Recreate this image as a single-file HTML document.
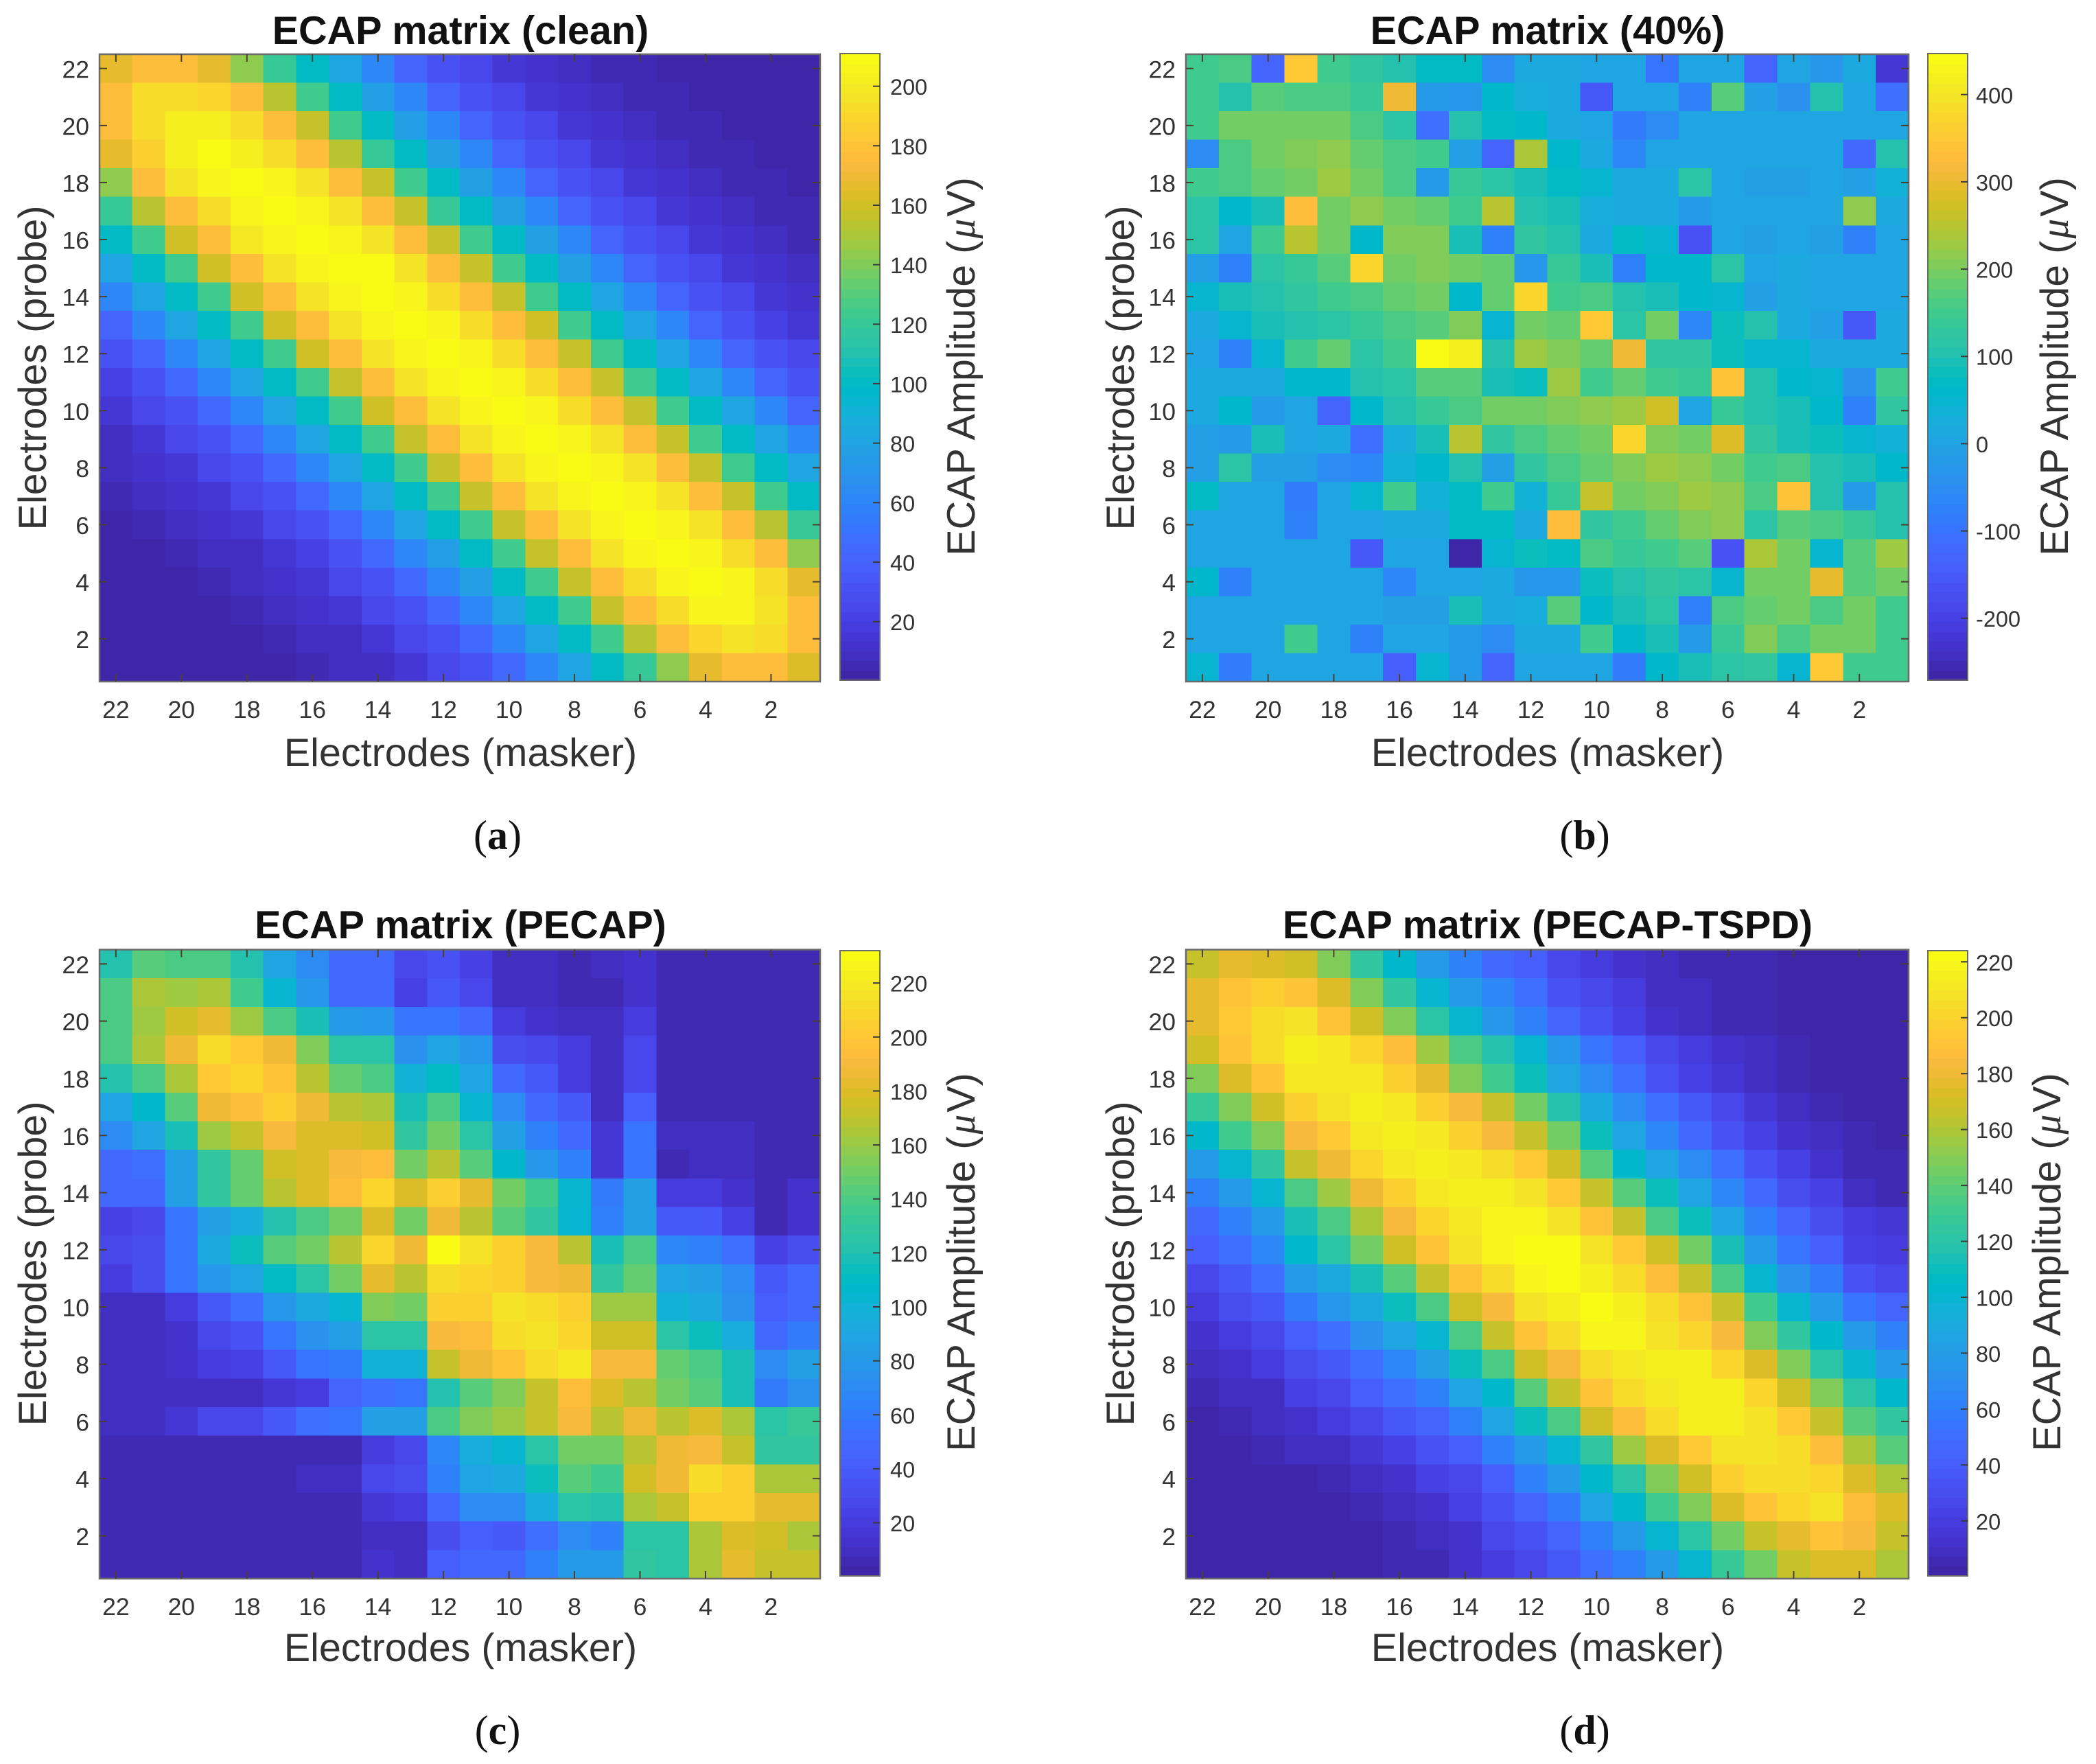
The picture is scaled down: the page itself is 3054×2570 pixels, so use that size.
<!DOCTYPE html>
<html lang="en">
<head>
<meta charset="utf-8">
<title>ECAP matrices</title>
<style>
  html,body{margin:0;padding:0;background:#fff;}
  svg{display:block;font-family:"Liberation Sans",Arial,sans-serif;}
  .title{font-size:57.5px;font-weight:bold;fill:#111;text-anchor:middle;}
  .axis-label{font-size:57.5px;fill:#333;text-anchor:middle;}
  .mu{font-family:"Liberation Serif",serif;font-style:italic;}
  .tick-text{font-size:35.5px;fill:#333;}
  .cb-tick-text{font-size:32.5px;fill:#333;}
  .caption{font-family:"Liberation Serif",serif;font-size:60px;fill:#111;text-anchor:middle;}
  .caption tspan{font-weight:bold;}
</style>
</head>
<body>
<svg id="figure" xmlns="http://www.w3.org/2000/svg" width="3054" height="2570" viewBox="0 0 3054 2570">
  <rect width="3054" height="2570" fill="#fff"/>

  <text class="title" x="671" y="64">ECAP matrix (clean)</text>
  <text class="title" x="2255" y="64">ECAP matrix (40%)</text>
  <text class="title" x="671" y="1367">ECAP matrix (PECAP)</text>
  <text class="title" x="2255" y="1367">ECAP matrix (PECAP-TSPD)</text>

  <text class="axis-label" x="671" y="1116">Electrodes (masker)</text>
  <text class="axis-label" x="2255" y="1116">Electrodes (masker)</text>
  <text class="axis-label" x="671" y="2420">Electrodes (masker)</text>
  <text class="axis-label" x="2255" y="2420">Electrodes (masker)</text>

  <text class="axis-label" transform="translate(67,536) rotate(-90)">Electrodes (probe)</text>
  <text class="axis-label" transform="translate(1652,536) rotate(-90)">Electrodes (probe)</text>
  <text class="axis-label" transform="translate(67,1841) rotate(-90)">Electrodes (probe)</text>
  <text class="axis-label" transform="translate(1652,1841) rotate(-90)">Electrodes (probe)</text>

  <text class="axis-label" transform="translate(1420,534) rotate(-90)">ECAP Amplitude (<tspan class="mu" dx="3">μ</tspan><tspan dx="3">V)</tspan></text>
  <text class="axis-label" transform="translate(3013,534) rotate(-90)">ECAP Amplitude (<tspan class="mu" dx="3">μ</tspan><tspan dx="3">V)</tspan></text>
  <text class="axis-label" transform="translate(1420,1839) rotate(-90)">ECAP Amplitude (<tspan class="mu" dx="3">μ</tspan><tspan dx="3">V)</tspan></text>
  <text class="axis-label" transform="translate(3002,1839) rotate(-90)">ECAP Amplitude (<tspan class="mu" dx="3">μ</tspan><tspan dx="3">V)</tspan></text>

  <text class="caption" x="725" y="1237">(<tspan>a</tspan>)</text>
  <text class="caption" x="2309" y="1237">(<tspan>b</tspan>)</text>
  <text class="caption" x="725" y="2541">(<tspan>c</tspan>)</text>
  <text class="caption" x="2309" y="2541">(<tspan>d</tspan>)</text>
</svg>

<script>
// ---------- chart data (rows: probe 22 → 1, columns: masker 22 → 1) ----------
const probeElectrodes = [22,21,20,19,18,17,16,15,14,13,12,11,10,9,8,7,6,5,4,3,2,1];
const maskerElectrodes = [22,21,20,19,18,17,16,15,14,13,12,11,10,9,8,7,6,5,4,3,2,1];
const electrodeTickLabels = [22,20,18,16,14,12,10,8,6,4,2];

const cleanLimits = [0.3, 211];
const noisyLimits = [-271, 447];
const pecapLimits = [0.3, 232];
const tspdLimits = [0.3, 224];

const cleanColorbarTicks = [20,40,60,80,100,120,140,160,180,200];
const noisyColorbarTicks = [-200,-100,0,100,200,300,400];
const pecapColorbarTicks = [20,40,60,80,100,120,140,160,180,200,220];
const tspdColorbarTicks = [20,40,60,80,100,120,140,160,180,200,220];

const cleanValues = [
[165,178,178,165,145,122,100,80,60,42,33,25,15,12,8,6,4,3,3,2,2,2],
[178,192,192,188,176,155,125,100,78,62,42,33,24,16,12,9,5,4,3,3,2,2],
[178,192,203,203,192,178,158,125,100,78,60,42,33,24,16,12,9,5,4,3,3,2],
[165,185,203,209,203,192,178,155,122,100,78,60,42,33,24,15,12,9,5,4,3,3],
[145,176,195,205,210,206,195,178,158,125,100,78,60,42,33,24,16,13,9,5,4,3],
[122,155,178,192,207,209,205,195,178,158,122,100,78,60,42,33,24,16,12,9,6,4],
[100,125,160,178,198,206,210,207,195,178,158,125,100,78,60,42,33,24,16,13,9,5],
[80,102,125,160,178,195,206,210,208,195,178,158,125,100,78,60,42,32,24,16,12,8],
[60,80,102,125,160,178,195,205,210,205,192,178,158,125,100,80,60,42,32,24,16,12],
[42,60,80,102,125,160,178,195,205,209,205,192,178,160,125,102,80,60,42,32,22,16],
[30,42,60,80,102,125,160,178,195,207,210,205,192,178,158,125,102,80,60,42,30,24],
[22,32,45,62,80,102,125,158,178,195,207,210,205,192,178,158,125,102,80,60,42,32],
[15,24,33,45,60,80,102,125,160,178,195,206,210,205,192,178,158,125,102,80,60,42],
[10,16,24,33,44,60,80,102,125,158,178,195,206,210,205,195,178,158,125,102,80,60],
[8,12,16,24,33,45,60,80,102,125,158,178,195,207,210,205,195,178,158,125,102,80],
[5,9,12,16,24,32,45,60,80,102,125,158,178,195,207,210,205,195,178,158,125,100],
[3,5,9,12,16,24,33,45,60,80,102,125,158,178,195,206,210,206,195,178,155,122],
[2,3,5,8,10,15,22,33,44,60,78,100,125,158,178,195,206,210,207,192,178,145],
[2,2,3,5,8,12,16,24,33,44,60,78,102,125,158,178,192,206,209,205,192,165],
[2,2,2,3,5,8,12,15,24,33,44,60,80,102,125,158,178,192,205,205,195,178],
[1,2,2,2,3,5,8,10,15,24,33,44,60,80,102,125,155,176,190,195,192,178],
[1,1,2,2,2,3,5,8,10,15,24,33,45,62,80,100,122,145,165,178,178,162]
];

const noisyValues = [
[150,165,-130,350,145,125,100,75,70,-50,15,10,5,0,-100,5,5,-130,5,-25,10,-215],
[150,110,175,160,160,140,310,-15,-30,60,25,10,-155,0,5,-70,170,-5,-45,105,5,-110],
[155,190,200,200,190,160,115,-110,110,75,55,15,5,-90,-50,0,0,0,0,0,0,0],
[-50,165,200,205,220,185,160,145,-10,-130,235,60,10,-60,0,0,0,0,0,0,-120,110],
[150,165,185,195,225,190,160,-20,140,115,90,70,50,15,10,115,0,-5,-5,0,-5,40],
[120,60,95,330,200,215,190,180,150,250,110,90,25,20,15,-15,0,0,0,0,220,15],
[120,0,150,255,190,60,210,205,95,-70,130,110,10,70,50,-165,0,-5,0,-10,-70,5],
[-10,-80,120,140,175,370,195,210,190,180,-30,140,90,-70,65,60,120,5,10,5,5,5],
[50,90,110,125,145,160,180,195,65,185,370,155,160,110,90,60,50,-10,10,0,0,0],
[15,50,90,110,120,140,160,175,205,50,200,185,350,115,200,-60,80,105,10,-5,-150,10],
[5,-70,50,150,185,120,145,447,420,110,225,205,185,310,130,125,80,50,45,10,10,10],
[15,15,20,55,60,105,120,175,175,90,85,225,145,185,145,140,340,100,60,50,-40,155],
[15,55,-15,0,-130,60,100,135,160,195,195,205,215,225,275,5,135,110,90,55,-70,130],
[-5,-20,90,0,10,-110,30,95,255,125,160,180,195,370,205,200,280,125,95,85,50,40],
[-10,120,-10,-10,-50,-60,40,65,100,-5,130,160,185,210,225,215,195,145,165,100,95,60],
[70,0,0,-90,0,50,150,40,70,150,40,135,260,200,205,225,215,165,335,100,-15,110],
[0,0,0,-70,0,0,10,15,70,70,15,330,125,155,180,205,220,115,170,165,135,110],
[0,0,0,0,0,-150,0,0,-271,50,85,75,165,135,155,170,-170,235,190,45,170,225],
[60,-80,0,0,0,0,-60,5,5,15,-25,-30,85,110,130,115,45,195,195,290,175,195],
[0,0,0,0,0,0,-5,-5,90,10,25,170,55,95,120,-70,165,185,200,160,190,150],
[0,0,0,150,0,-80,5,0,-15,-55,10,15,145,60,95,-15,135,210,160,195,190,155],
[50,-90,0,0,0,0,-140,50,-15,-130,5,5,0,-90,60,90,115,130,50,355,150,145]
];

const pecapValues = [
[122,145,138,138,120,90,70,50,50,28,35,25,8,8,6,8,12,4,4,4,4,4],
[140,165,160,165,135,105,78,48,48,24,38,28,8,8,5,6,12,4,4,4,4,4],
[140,162,175,182,160,140,118,80,78,55,58,48,20,14,8,8,22,4,4,4,4,4],
[140,165,185,212,200,188,155,125,125,75,90,78,32,26,20,8,28,4,4,4,4,4],
[120,140,165,200,208,198,170,148,140,100,110,90,50,38,22,8,28,4,4,4,4,4],
[90,108,145,185,195,205,188,170,165,118,140,105,72,50,38,10,42,4,4,4,4,4],
[72,90,118,160,172,190,180,178,175,130,150,125,85,65,50,16,58,8,10,10,5,4],
[48,52,85,130,148,175,178,192,195,150,168,145,108,78,62,18,58,6,8,8,5,4],
[48,50,85,128,148,170,178,195,208,178,205,182,150,135,105,60,85,20,20,14,7,12],
[24,26,55,85,95,122,138,152,178,150,185,168,145,128,105,65,85,38,38,24,5,14],
[28,32,58,92,115,142,152,170,208,185,232,215,205,192,170,118,138,68,65,52,24,30],
[22,30,55,78,90,110,125,150,182,170,212,208,205,192,185,130,148,90,85,72,38,50],
[10,10,22,40,52,78,92,105,155,150,205,205,215,212,205,160,162,100,92,75,42,50],
[8,8,14,28,36,55,75,85,125,125,190,195,212,215,210,175,175,125,115,95,48,60],
[8,8,14,22,24,40,58,60,100,100,172,185,198,212,220,192,190,148,140,118,72,85],
[8,8,8,10,10,16,20,45,52,58,120,145,155,172,195,180,170,152,145,118,60,75],
[10,10,18,28,28,38,52,58,85,85,140,155,160,172,190,170,185,170,178,165,125,132],
[4,4,4,4,4,4,5,5,22,28,68,95,102,125,150,150,170,188,190,172,128,128],
[4,4,4,4,4,4,8,8,28,32,65,90,92,115,145,135,175,188,212,205,165,165],
[4,4,4,4,4,4,6,6,18,22,50,72,72,95,125,120,165,172,205,205,182,182],
[4,4,4,4,4,4,4,4,8,8,30,42,38,52,72,62,125,125,165,178,175,165],
[4,4,4,4,4,4,4,4,12,10,42,48,48,62,82,82,130,125,165,182,172,172]
];

const tspdValues = [
[168,178,175,170,148,125,102,80,62,48,40,26,18,14,10,6,5,4,3,3,2,2],
[178,190,198,192,172,150,125,100,78,65,50,35,25,18,10,8,5,4,3,3,2,2],
[176,195,205,208,192,170,148,122,100,75,62,45,32,22,14,10,7,5,3,3,2,2],
[170,190,205,214,212,200,188,155,135,118,100,75,55,40,28,20,12,8,5,3,2,2],
[150,172,192,212,213,212,198,178,150,130,112,85,68,50,32,24,15,8,5,3,2,2],
[128,150,170,198,210,215,212,198,185,165,145,118,90,68,50,38,26,16,8,4,3,2],
[105,130,150,185,196,212,214,212,198,185,168,145,112,85,65,48,35,22,14,8,5,3],
[80,100,125,165,180,200,212,215,212,205,195,170,140,105,85,70,52,32,22,12,6,4],
[62,78,100,135,155,180,198,212,215,215,210,195,168,140,110,85,65,48,30,22,10,6],
[48,62,78,115,135,160,185,202,212,218,218,210,190,165,135,112,85,62,45,30,20,16],
[42,50,65,105,120,145,170,190,210,218,224,222,208,195,170,145,115,80,55,42,24,20],
[28,38,52,78,88,115,140,165,190,205,220,222,215,205,188,165,135,100,72,58,32,28],
[20,30,38,58,75,90,112,135,170,185,208,214,224,216,205,190,165,130,100,78,55,45],
[12,20,26,42,50,72,85,100,135,165,192,205,218,220,210,200,185,150,125,102,78,62],
[8,14,20,30,38,50,65,82,110,135,170,185,205,212,216,215,200,175,150,120,100,80],
[4,8,10,22,28,42,50,62,85,105,140,165,190,205,212,216,214,200,170,150,120,105],
[3,4,8,14,18,28,38,45,62,85,112,135,170,188,205,214,216,208,195,168,140,125],
[2,3,4,8,10,16,24,32,42,60,80,100,125,155,175,195,208,208,205,188,158,140],
[1,1,2,3,5,10,14,22,28,40,62,80,105,122,150,170,198,205,205,200,172,158],
[1,1,1,2,3,5,8,14,22,32,45,58,85,102,130,150,175,190,202,208,188,172],
[1,1,1,1,2,3,5,8,14,26,34,45,62,80,100,120,145,165,178,190,185,165],
[1,1,1,1,1,2,4,6,12,20,28,38,52,62,78,100,128,145,165,172,172,160]
];

// ---------- parula colormap ----------
const parulaRGB = [
[.2422,.1504,.6603],[.2504,.1650,.7076],[.2578,.1818,.7511],[.2647,.1978,.7952],[.2706,.2147,.8364],[.2751,.2342,.8710],[.2783,.2559,.8991],[.2803,.2782,.9221],
[.2813,.3006,.9414],[.2810,.3228,.9579],[.2795,.3447,.9717],[.2760,.3667,.9829],[.2699,.3892,.9906],[.2602,.4123,.9952],[.2440,.4358,.9988],[.2206,.4603,.9973],
[.1963,.4847,.9892],[.1834,.5074,.9798],[.1786,.5289,.9682],[.1764,.5499,.9520],[.1687,.5703,.9359],[.1540,.5902,.9218],[.1460,.6091,.9079],[.1380,.6276,.8973],
[.1248,.6459,.8883],[.1113,.6635,.8763],[.0952,.6798,.8598],[.0689,.6948,.8394],[.0297,.7082,.8163],[.0036,.7203,.7917],[.0067,.7312,.7660],[.0433,.7411,.7394],
[.0964,.7500,.7120],[.1408,.7584,.6842],[.1717,.7670,.6554],[.1938,.7758,.6251],[.2161,.7843,.5923],[.2470,.7918,.5567],[.2906,.7973,.5188],[.3406,.8008,.4789],
[.3909,.8029,.4354],[.4456,.8024,.3909],[.5044,.7993,.3480],[.5616,.7942,.3045],[.6174,.7876,.2612],[.6720,.7793,.2227],[.7242,.7698,.1910],[.7738,.7598,.1646],
[.8203,.7498,.1535],[.8634,.7406,.1596],[.9035,.7330,.1774],[.9393,.7288,.2100],[.9728,.7298,.2394],[.9956,.7434,.2371],[.9970,.7659,.2199],[.9952,.7893,.2028],
[.9892,.8136,.1885],[.9786,.8386,.1766],[.9676,.8639,.1643],[.9610,.8890,.1537],[.9597,.9135,.1423],[.9628,.9373,.1265],[.9691,.9606,.1064],[.9769,.9839,.0805]
];

function colorOf(value, limits) {
  const t = (value - limits[0]) / (limits[1] - limits[0]);
  const index = Math.max(0, Math.min(63, Math.floor(t * 64)));
  const c = parulaRGB[index];
  return 'rgb(' + Math.round(c[0]*255) + ',' + Math.round(c[1]*255) + ',' + Math.round(c[2]*255) + ')';
}

// ---------- layout ----------
const SVG_NS = 'http://www.w3.org/2000/svg';
const figure = document.getElementById('figure');

function make(tag, attrs, parent) {
  const el = document.createElementNS(SVG_NS, tag);
  for (const k in attrs) el.setAttribute(k, attrs[k]);
  parent.appendChild(el);
  return el;
}

const panels = [
  {key:'clean', values:cleanValues, limits:cleanLimits, ticks:cleanColorbarTicks,
   left:145, top:79, right:1195, bottom:993, cbLeft:1224, cbTop:78, cbRight:1282, cbBottom:991, cbTextX:1297},
  {key:'40-percent', values:noisyValues, limits:noisyLimits, ticks:noisyColorbarTicks,
   left:1728, top:79, right:2781, bottom:993, cbLeft:2809, cbTop:78, cbRight:2867, cbBottom:991, cbTextX:2879},
  {key:'pecap', values:pecapValues, limits:pecapLimits, ticks:pecapColorbarTicks,
   left:145, top:1383.5, right:1195, bottom:2300, cbLeft:1224, cbTop:1385, cbRight:1282, cbBottom:2296, cbTextX:1297},
  {key:'pecap-tspd', values:tspdValues, limits:tspdLimits, ticks:tspdColorbarTicks,
   left:1728, top:1383.5, right:2781, bottom:2300, cbLeft:2809, cbTop:1385, cbRight:2867, cbBottom:2296, cbTextX:2879}
];

panels.forEach(function (p) {
  const cellW = (p.right - p.left) / maskerElectrodes.length;
  const cellH = (p.bottom - p.top) / probeElectrodes.length;
  // axis functions: electrode number → pixel (centre of its cell)
  const xOf = function (electrode) { return p.left + (maskerElectrodes.indexOf(electrode) + 0.5) * cellW; };
  const yOf = function (electrode) { return p.top + (probeElectrodes.indexOf(electrode) + 0.5) * cellH; };
  // colour axis function: value → pixel
  const cbY = function (value) {
    return p.cbBottom - (value - p.limits[0]) / (p.limits[1] - p.limits[0]) * (p.cbBottom - p.cbTop);
  };

  const group = make('g', {}, figure);
  
  

  // heatmap cells
  probeElectrodes.forEach(function (probe, r) {
    maskerElectrodes.forEach(function (masker, c) {
      const cell = make('rect', {
        x: xOf(masker) - cellW / 2,
        y: yOf(probe) - cellH / 2,
        width: cellW + 0.6,
        height: cellH + 0.6,
        fill: colorOf(p.values[r][c], p.limits),
        'shape-rendering': 'crispEdges'
      }, group);
      
      
    });
  });

  // axes box
  const box = make('rect', {
    x: p.left, y: p.top, width: p.right - p.left, height: p.bottom - p.top,
    fill: 'none', stroke: '#6a6a6a', 'stroke-width': 2.5
  }, group);
  
  

  // ticks and tick labels
  electrodeTickLabels.forEach(function (electrode) {
    const x = xOf(electrode);
    const y = yOf(electrode);

    const tickBottom = make('line', {x1:x, x2:x, y1:p.bottom, y2:p.bottom - 11, stroke:'#4a4030', 'stroke-width':2}, group);
    
    

    const tickTop = make('line', {x1:x, x2:x, y1:p.top, y2:p.top + 11, stroke:'#4a4030', 'stroke-width':2}, group);
    
    

    const tickLeft = make('line', {x1:p.left, x2:p.left + 11, y1:y, y2:y, stroke:'#4a4030', 'stroke-width':2}, group);
    
    

    const tickRight = make('line', {x1:p.right, x2:p.right - 11, y1:y, y2:y, stroke:'#4a4030', 'stroke-width':2}, group);
    
    

    const xText = make('text', {x:x, y:p.bottom + 53, 'text-anchor':'middle', class:'tick-text'}, group);
    xText.textContent = electrode;
    
    

    const yText = make('text', {x:p.left - 15, y:y + 13.5, 'text-anchor':'end', class:'tick-text'}, group);
    yText.textContent = electrode;
    
    
  });

  // colorbar
  const bar = make('g', {}, group);
  
  
  parulaRGB.forEach(function (c, i) {
    const lo = p.limits[0] + (p.limits[1] - p.limits[0]) * i / 64;
    const hi = p.limits[0] + (p.limits[1] - p.limits[0]) * (i + 1) / 64;
    const band = make('rect', {
      x: p.cbLeft, y: cbY(hi), width: p.cbRight - p.cbLeft, height: cbY(lo) - cbY(hi) + 0.6,
      fill: colorOf((lo + hi) / 2, p.limits), 'shape-rendering': 'crispEdges'
    }, bar);
    
    
  });
  const barBox = make('rect', {
    x: p.cbLeft, y: p.cbTop, width: p.cbRight - p.cbLeft, height: p.cbBottom - p.cbTop,
    fill: 'none', stroke: '#6a6a6a', 'stroke-width': 2
  }, bar);
  
  

  p.ticks.forEach(function (value) {
    const y = cbY(value);
    const tick = make('line', {x1:p.cbRight, x2:p.cbRight - 10, y1:y, y2:y, stroke:'#3a3a3a', 'stroke-width':2}, bar);
    
    

    const label = make('text', {x:p.cbTextX, y:y + 12.5, class:'cb-tick-text'}, bar);
    label.textContent = value;
    
    
  });
});
</script>
</body>
</html>
